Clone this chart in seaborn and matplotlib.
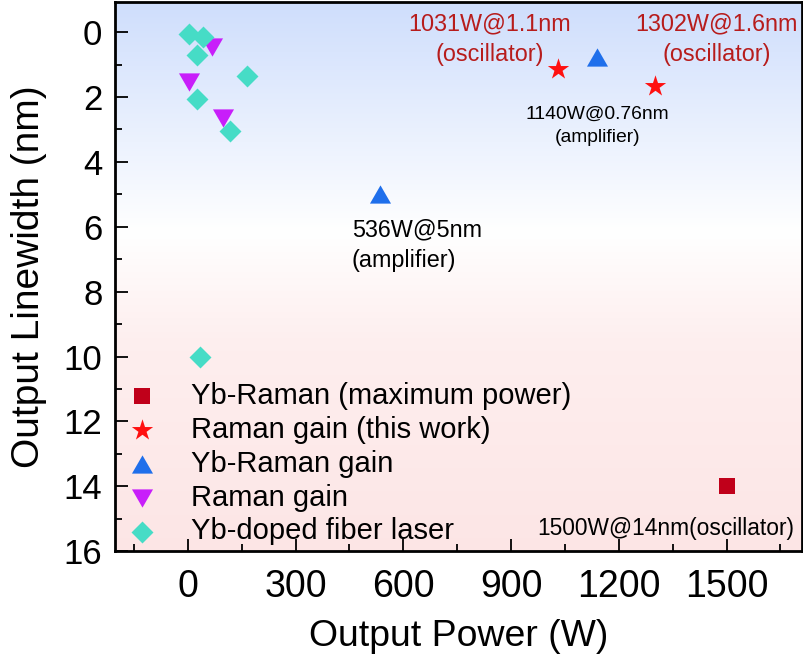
import numpy as np
import pandas as pd
import matplotlib
matplotlib.use("Agg")
import matplotlib.pyplot as plt
from matplotlib import font_manager
from matplotlib.colors import LinearSegmentedColormap
import seaborn as sns

# data
yb_max_power = [1500]
yb_max_width = [14]
this_work_power = [1031, 1302]
this_work_width = [1.15, 1.65]
yb_raman_power = [1140, 536]
yb_raman_width = [0.76, 5.0]
raman_power = [67, 3, 98]
raman_width = [0.45, 1.55, 2.65]
yb_fiber_power = [3, 42, 25, 164, 25, 117, 33]
yb_fiber_width = [0.05, 0.15, 0.7, 1.35, 2.05, 3.05, 10.0]

labels = ["Yb-Raman (maximum power)", "Raman gain (this work)",
          "Yb-Raman gain", "Raman gain", "Yb-doped fiber laser"]
x_ticks = [0, 300, 600, 900, 1200, 1500]
y_ticks = [0, 2, 4, 6, 8, 10, 12, 14, 16]

sns.set_style("ticks")
plt.rcParams["font.family"] = ["Liberation Sans", "DejaVu Sans"]
for k in ["text.color", "axes.labelcolor", "xtick.color", "ytick.color", "axes.edgecolor"]:
    plt.rcParams[k] = "black"

# narrow font for the annotations if one exists, else shrink the regular one
names = {f.name for f in font_manager.fontManager.ttflist}
narrow, nscale = "Liberation Sans", 0.84
for cand in ["Liberation Sans Narrow", "Arial Narrow", "Nimbus Sans Narrow"]:
    if cand in names:
        narrow, nscale = cand, 1.0
        break

up_tri = [(-1, -0.866), (1, -0.866), (0, 0.866)]
down_tri = [(-1, 0.866), (1, 0.866), (0, -0.866)]

groups = [
    (labels[0], yb_max_power, yb_max_width, "s", "#C0001A", 130),
    (labels[1], this_work_power, this_work_width, "*", "#FF1010", 260),
    (labels[2], yb_raman_power, yb_raman_width, up_tri, "#1F6FEB", 230),
    (labels[3], raman_power, raman_width, down_tri, "#C81EFA", 230),
    (labels[4], yb_fiber_power, yb_fiber_width, "D", "#46DCC6", 125),
]

fig = plt.figure(figsize=(8.04, 6.61), dpi=100)
ax = fig.add_axes([0.143, 0.166, 0.854, 0.831])

xlim = (-203, 1709)
ylim = (16, -0.93)

# background gradient (blue on top, white middle, pink at bottom)
cmap = LinearSegmentedColormap.from_list(
    "bg", [(0.0, (0.81, 0.87, 0.99)), (0.42, (1, 1, 1)),
           (0.62, (0.995, 0.935, 0.935)), (1.0, (0.99, 0.90, 0.90))])
grad = np.linspace(0, 1, 256).reshape(-1, 1)
ax.imshow(grad, cmap=cmap, aspect="auto", zorder=0,
          extent=[xlim[0], xlim[1], ylim[0], ylim[1]], origin="upper")

for lab, xs, ys, mk, col, sz in groups:
    df = pd.DataFrame({"power": xs, "width": ys})
    sns.scatterplot(data=df, x="power", y="width", marker=mk, color=col,
                    s=sz, linewidth=0, label=lab, ax=ax, zorder=3)

ax.set_xlim(*xlim)
ax.set_ylim(*ylim)
ax.set_xticks(x_ticks)
ax.set_xticks(np.arange(-150, 1701, 150), minor=True)
ax.set_yticks(y_ticks)
ax.set_yticks(np.arange(0, 17, 1), minor=True)
ax.tick_params(axis="both", which="both", direction="in", top=False, right=False)
ax.tick_params(which="major", length=9, width=1.3)
ax.tick_params(which="minor", length=5, width=1.3)
ax.tick_params(axis="y", labelsize=25, pad=9)
ax.tick_params(axis="x", labelsize=27, pad=13)
for sp in ax.spines.values():
    sp.set_linewidth(2)

ax.set_xlabel("Output Power (W)", fontsize=32 * nscale, family=narrow, labelpad=10)
ax.set_ylabel("Output Linewidth (nm)", fontsize=28, labelpad=12)

red_txt = "#B71C1C"
ax.text(840, 0.22, "1031W@1.1nm\n(oscillator)", color=red_txt, fontsize=20 * nscale,
        family=narrow, ha="center", va="center", linespacing=1.45, zorder=4)
ax.text(1472, 0.22, "1302W@1.6nm\n(oscillator)", color=red_txt, fontsize=20 * nscale,
        family=narrow, ha="center", va="center", linespacing=1.45, zorder=4)
ax.text(1141, 2.88, "1140W@0.76nm\n(amplifier)", color="black", fontsize=16.5 * nscale,
        family=narrow, ha="center", va="center", linespacing=1.5, zorder=4)
ax.text(456, 6.56, "536W@5nm\n(amplifier)", color="black", fontsize=20 * nscale,
        family=narrow, ha="left", va="center", linespacing=1.4, zorder=4)
ax.text(974, 15.3, "1500W@14nm(oscillator)", color="black", fontsize=19.5 * nscale,
        family=narrow, ha="left", va="center", zorder=4)

ax.legend(loc="lower left", bbox_to_anchor=(0.006, 0.0), frameon=False,
          fontsize=21, labelspacing=0.2, handletextpad=1.05,
          borderaxespad=0.1, borderpad=0.1, handlelength=1.2)

fig.savefig("out.png", dpi=100)
